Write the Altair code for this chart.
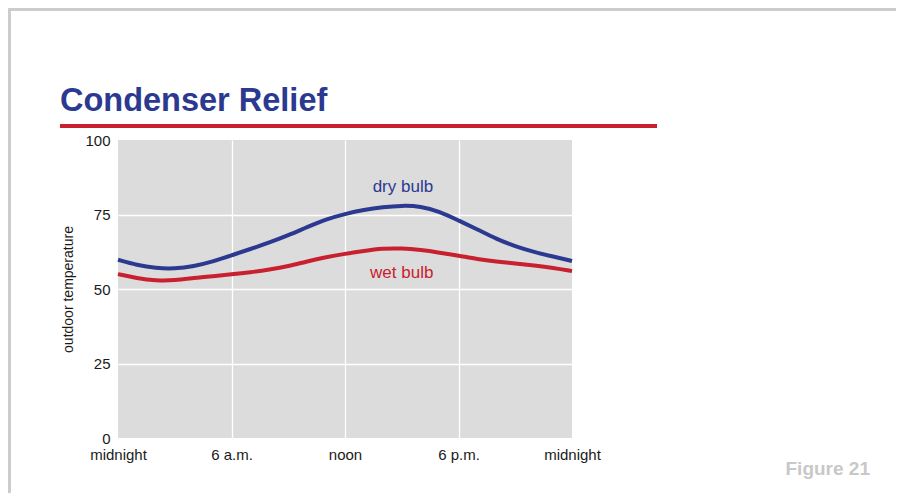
import altair as alt
import pandas as pd

# ---- data ----
hours = list(range(0, 25))
dry_bulb = [59.8, 58.0, 57.0, 56.8, 57.6, 59.2, 61.3, 63.4, 65.6, 68.0, 70.8, 73.4, 75.2,
            76.6, 77.5, 78.0, 77.8, 76.0, 73.0, 70.0, 66.8, 64.3, 62.4, 60.9, 59.4]
wet_bulb = [55.0, 53.6, 52.8, 52.9, 53.7, 54.3, 54.9, 55.6, 56.5, 57.6, 59.3, 60.7, 61.8,
            62.8, 63.6, 63.7, 63.1, 62.2, 61.2, 60.0, 59.2, 58.6, 57.9, 57.1, 56.0]
series_names = ["dry bulb", "wet bulb"]
series_colors = ["#2b3990", "#c9202f"]
label_hours = [15.06, 15.0]
label_temps = [82.4, 53.7]
x_tick_values = [0, 6, 12, 18, 24]
x_tick_labels = ["midnight", "6 a.m.", "noon", "6 p.m.", "midnight"]
y_tick_values = [0, 25, 50, 75, 100]
title_text = "Condenser Relief"
figure_text = "Figure 21"

FONT = "Liberation Sans"
W, H = 454, 298

df = pd.DataFrame({
    "hour": hours * 2,
    "temp": dry_bulb + wet_bulb,
    "series": [series_names[0]] * len(hours) + [series_names[1]] * len(hours),
})
labels_df = pd.DataFrame({"hour": label_hours, "temp": label_temps, "series": series_names})

label_expr = " : ".join(
    f"datum.value == {v} ? '{t}'" for v, t in zip(x_tick_values[1:-1], x_tick_labels[1:-1])
) + f" : '{x_tick_labels[0]}'"

edge_hide_x = {"condition": {"test": "datum.value == 0 || datum.value == 24", "value": 0}, "value": 1}
edge_hide_y = {"condition": {"test": "datum.value == 0 || datum.value == 100", "value": 0}, "value": 1}

x_enc = alt.X("hour:Q", scale=alt.Scale(domain=[0, 24], nice=False),
              axis=alt.Axis(values=x_tick_values, labelExpr=label_expr, title=None,
                            labelFlush=False, labelPadding=9, gridOpacity=edge_hide_x))
y_enc = alt.Y("temp:Q", scale=alt.Scale(domain=[0, 100], nice=False),
              axis=alt.Axis(values=y_tick_values, title="outdoor temperature",
                            labelFlush=False, labelPadding=8, gridOpacity=edge_hide_y,
                            titleX=-46, titleY=H / 2, titleAngle=270,
                            titleAlign="center", titleBaseline="alphabetic"))
color_enc = alt.Color("series:N", scale=alt.Scale(domain=series_names, range=series_colors),
                      legend=None)

lines = alt.Chart(df).mark_line(interpolate="basis", strokeWidth=4).encode(
    x=x_enc, y=y_enc, color=color_enc
)

series_labels = alt.Chart(labels_df).mark_text(
    font=FONT, fontSize=17, align="center", baseline="alphabetic"
).encode(x="hour:Q", y="temp:Q", text="series:N", color=color_enc)

one = pd.DataFrame({"k": [0]})

title_mark = alt.Chart(one).mark_text(
    text=title_text, font=FONT, fontSize=32.5, fontWeight="bold", color="#2b3990",
    align="left", baseline="alphabetic"
).encode(x=alt.value(-58), y=alt.value(-29))

red_rule = alt.Chart(one).mark_rule(color="#c9202f", strokeWidth=4).encode(
    x=alt.value(-58), x2=alt.value(539), y=alt.value(-14)
)

border_top = alt.Chart(one).mark_rule(color="#cccccc", strokeWidth=3).encode(
    x=alt.value(-110), x2=alt.value(790), y=alt.value(-130.5)
)
border_left = alt.Chart(one).mark_rule(color="#cccccc", strokeWidth=3).encode(
    x=alt.value(-108.5), y=alt.value(-132), y2=alt.value(H + 70)
)

figure_mark = alt.Chart(one).mark_text(
    text=figure_text, font=FONT, fontSize=19, fontWeight="bold", color="#c8c8c8",
    align="right", baseline="alphabetic"
).encode(x=alt.value(752), y=alt.value(335))

chart = alt.layer(
    lines, series_labels, title_mark, red_rule, border_top, border_left, figure_mark
).properties(
    width=W, height=H,
    autosize=alt.AutoSizeParams(type="none"),
    padding={"left": 110, "top": 132, "right": 324, "bottom": 55},
).configure_view(
    fill="#dcdcdc", stroke=None
).configure_axis(
    domain=False, ticks=False, grid=True, gridColor="#ffffff", gridWidth=1.3,
    labelFont=FONT, labelFontSize=15, labelColor="#1a1a1a",
    titleFont=FONT, titleFontSize=14, titleFontWeight="normal", titleColor="#1a1a1a",
)

chart.save("out.html", embed_options={"renderer": "svg", "actions": False})
